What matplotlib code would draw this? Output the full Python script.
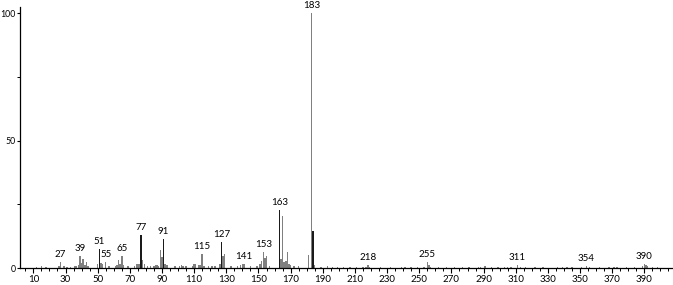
import matplotlib
matplotlib.use("Agg")
import matplotlib.pyplot as plt
from matplotlib.ticker import MultipleLocator, FixedLocator

# m/z values and relative intensities (%)
mz = [12, 15, 18, 26, 27, 29, 31, 33, 36, 37, 38, 39, 40, 41, 42, 43, 44,
      50, 51, 52, 53, 55, 57, 61, 62, 63, 64, 65, 66, 69, 73, 74, 75, 76, 77,
      78, 79, 81, 83, 85, 86, 87, 88, 89, 90, 91, 92, 93, 98, 101, 102, 103,
      105, 109, 110, 111, 113, 114, 115, 116, 119, 121, 123, 126, 127, 128,
      129, 133, 137, 139, 140, 141, 145, 149, 151, 152, 153, 154, 155, 157,
      163, 164, 165, 166, 167, 168, 169, 170, 172, 175, 181, 183, 184, 185,
      189, 193, 196, 199, 203, 207, 211, 215, 217, 218, 219, 226, 232, 239,
      241, 245, 249, 253, 255, 256, 257, 262, 267, 272, 277, 281, 287, 288,
      291, 295, 299, 303, 305, 307, 311, 313, 316, 322, 327, 336, 339, 342,
      345, 351, 354, 356, 362, 368, 371, 373, 379, 384, 389, 390, 391, 392,
      395, 398]
intensity = [0.5, 0.6, 0.5, 0.6, 2.4, 0.8, 0.5, 0.5, 0.6, 0.8, 1.0, 4.7,
             2.0, 3.7, 1.0, 2.2, 0.6,
             1.5, 7.3, 2.0, 1.5, 2.2, 0.8, 0.6, 1.0, 3.0, 1.5, 4.6, 1.0, 0.6,
             0.8, 1.5, 1.5, 1.4, 12.8,
             3.0, 1.5, 0.6, 0.8, 0.6, 1.0, 1.2, 0.8, 7.2, 4.3, 11.5, 1.5, 1.0,
             0.6, 0.8, 1.0, 0.6,
             0.6, 0.8, 1.5, 1.5, 1.0, 1.0, 5.6, 0.8, 0.6, 0.6, 0.6, 1.5, 10.2,
             4.7,
             5.5, 0.6, 0.6, 1.0, 1.5, 1.7, 0.6, 0.8, 1.5, 2.7, 6.3, 3.9, 4.6,
             0.8,
             22.8, 3.4, 20.4, 2.4, 2.6, 6.3, 1.5, 1.0, 0.6, 0.6, 5.0, 100.0,
             14.4, 1.0,
             0.5, 0.6, 0.5, 0.5, 0.4, 0.5, 0.5, 0.4, 0.5, 1.0, 0.5, 0.4, 0.5,
             0.4,
             0.5, 0.4, 0.4, 0.5, 2.4, 1.0, 0.5, 0.4, 0.4, 0.4, 0.4, 0.5, 0.5,
             0.4,
             0.6, 0.4, 0.5, 0.4, 0.5, 0.4, 1.0, 0.5, 0.4, 0.4, 0.4, 0.4, 0.5,
             0.5,
             0.4, 0.4, 0.7, 0.4, 0.4, 0.4, 0.5, 0.4, 0.4, 0.5, 0.6, 1.7, 1.2,
             0.8,
             0.4, 0.4]

# labelled peaks
label_mz = [27, 39, 51, 55, 65, 77, 91, 115, 127, 141, 153, 163, 183, 218,
            255, 311, 354, 390]
# peaks drawn in black (others grey)
dark_mz = [51, 77, 91, 127, 163, 184]

x_ticks = list(range(10, 391, 20))
y_ticks = [0, 50, 100]

plt.rcParams['font.family'] = ['Lato', 'DejaVu Sans']

fig = plt.figure(figsize=(6.73, 2.85), dpi=100)
ax = fig.add_axes([20 / 673, 17 / 285, 653 / 673, 261 / 285])

colors = ['#1a1a1a' if m in dark_mz else '#808080' for m in mz]
ax.bar(mz, intensity, width=0.9, color=colors, linewidth=0)

lookup = dict(zip(mz, intensity))
for m in label_mz:
    ax.text(m, lookup[m] + 1.2, str(m), ha='center', va='bottom',
            fontsize=7, color='black')

ax.set_xlim(1.7, 407.8)
ax.set_ylim(0, 102.5)

ax.spines['top'].set_visible(False)
ax.spines['right'].set_visible(False)
ax.spines['left'].set_linewidth(0.9)
ax.spines['bottom'].set_linewidth(0.9)

ax.xaxis.set_major_locator(FixedLocator(x_ticks))
ax.xaxis.set_minor_locator(MultipleLocator(5))
ax.yaxis.set_major_locator(FixedLocator(y_ticks))
ax.yaxis.set_minor_locator(FixedLocator([25, 75]))
ax.tick_params(axis='x', which='major', labelsize=7, length=3.5,
               width=0.8, pad=1.5, direction='out')
ax.tick_params(axis='y', which='major', labelsize=6.3, length=2.5,
               width=0.8, pad=0.4, direction='out')
ax.tick_params(axis='both', which='minor', length=2, width=0.7,
               direction='out')

fig.savefig('out.png', dpi=100)
